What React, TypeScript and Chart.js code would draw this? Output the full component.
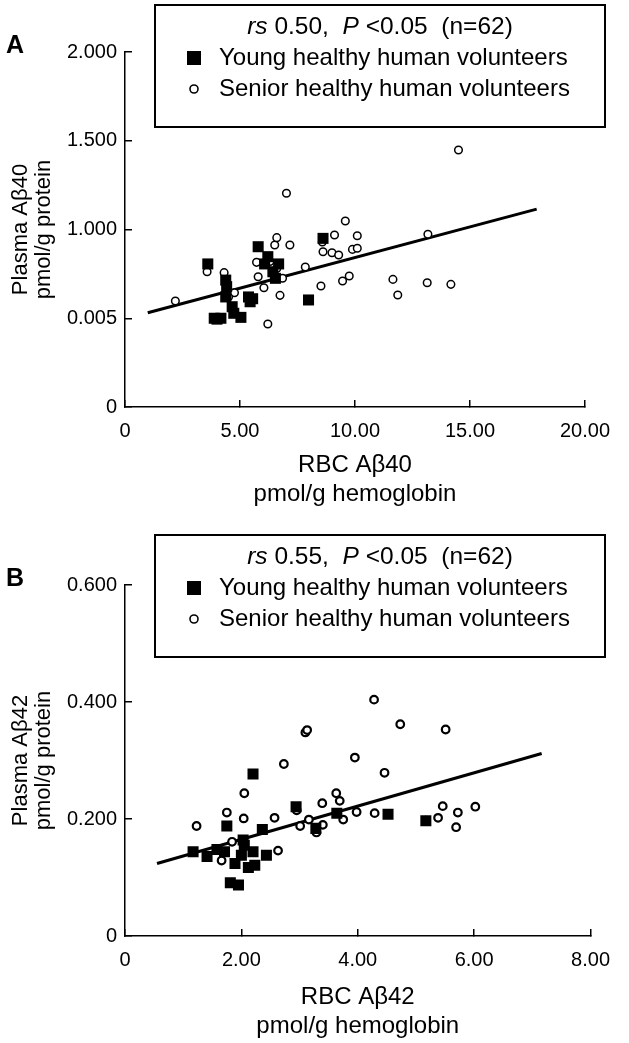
import React, { useEffect, useRef } from 'react';
import { Chart, registerables } from 'chart.js';

Chart.register(...registerables);

const FONT = '"Liberation Sans", Arial, Helvetica, sans-serif';

// ---------- Panel A data (RBC Aβ40 vs Plasma Aβ40) ----------
const youngAX = [3.6, 5.79, 6.21, 6.07, 6.68, 6.43, 6.54, 8.61, 7.98, 4.38, 4.42, 4.38, 4.66, 3.88, 4.17, 5.04, 4.73, 5.37, 5.44, 4.0, 5.55];
const youngAY = [0.806, 0.903, 0.847, 0.806, 0.806, 0.762, 0.725, 0.95, 0.603, 0.715, 0.678, 0.62, 0.565, 0.5, 0.5, 0.505, 0.528, 0.62, 0.593, 0.495, 0.61];
const seniorAX = [2.19, 3.57, 4.31, 4.76, 6.21, 5.72, 5.79, 6.04, 6.51, 6.6, 7.02, 7.17, 6.74, 6.85, 7.84, 8.52, 8.61, 8.58, 9.0, 9.11, 9.58, 9.29, 9.46, 9.75, 9.89, 10.1, 10.1, 14.5, 13.17, 11.65, 11.86, 13.14, 14.17, 6.3, 6.6, 4.5];
const seniorAY = [0.597, 0.762, 0.757, 0.644, 0.468, 0.815, 0.734, 0.672, 0.913, 0.954, 1.204, 0.913, 0.629, 0.725, 0.789, 0.682, 0.875, 0.93, 0.869, 0.969, 1.048, 0.856, 0.71, 0.738, 0.888, 0.894, 0.965, 1.448, 0.973, 0.719, 0.631, 0.7, 0.691, 0.82, 0.78, 0.62];
const fitAX = [0.99, 17.9];
const fitAY = [0.531, 1.115];
const xTicksA = ['0', '5.00', '10.00', '15.00', '20.00'];
const yTicksA = ['0', '0.005', '1.000', '1.500', '2.000'];
const statA = [
  { t: 'rs', i: true },
  { t: ' 0.50,  ', i: false },
  { t: 'P', i: true },
  { t: ' <0.05  (n=62)', i: false },
];

// ---------- Panel B data (RBC Aβ42 vs Plasma Aβ42) ----------
const youngBX = [2.2, 1.75, 2.36, 2.94, 2.03, 1.17, 1.41, 1.58, 1.71, 2.0, 2.2, 2.43, 1.89, 2.12, 2.23, 1.81, 1.95, 3.28, 3.64, 2.05, 4.52, 5.17];
const youngBY = [0.277, 0.188, 0.182, 0.221, 0.164, 0.144, 0.136, 0.148, 0.144, 0.138, 0.144, 0.138, 0.124, 0.117, 0.121, 0.091, 0.087, 0.184, 0.21, 0.155, 0.208, 0.197];
const seniorBX = [1.23, 1.75, 2.05, 2.04, 2.73, 2.57, 1.84, 1.66, 2.63, 2.95, 3.01, 3.16, 3.29, 3.4, 3.39, 3.63, 3.69, 3.75, 3.98, 3.95, 4.29, 4.28, 4.73, 5.51, 4.46, 5.17, 5.38, 5.46, 5.72, 5.69, 6.02, 3.1, 3.13];
const seniorBY = [0.188, 0.211, 0.244, 0.201, 0.294, 0.202, 0.161, 0.129, 0.146, 0.215, 0.188, 0.199, 0.177, 0.19, 0.227, 0.244, 0.231, 0.199, 0.212, 0.305, 0.21, 0.404, 0.362, 0.353, 0.279, 0.197, 0.202, 0.222, 0.211, 0.186, 0.221, 0.348, 0.352];
const fitBX = [0.55, 7.16];
const fitBY = [0.124, 0.312];
const xTicksB = ['0', '2.00', '4.00', '6.00', '8.00'];
const yTicksB = ['0', '0.200', '0.400', '0.600'];
const statB = [
  { t: 'rs', i: true },
  { t: ' 0.55,  ', i: false },
  { t: 'P', i: true },
  { t: ' <0.05  (n=62)', i: false },
];

const seriesLabels = ['Young healthy human volunteers', 'Senior healthy human volunteers'];

const toPts = (xs: number[], ys: number[]) => xs.map((x, i) => ({ x, y: ys[i] }));

const boxLegendPlugin = {
  id: 'boxLegend',
  afterDraw(chart: any, _args: any, opts: any) {
    const ctx = chart.ctx as CanvasRenderingContext2D;
    ctx.save();
    // panel letter
    ctx.fillStyle = '#000';
    ctx.font = `bold 25px ${FONT}`;
    ctx.textAlign = 'center';
    ctx.textBaseline = 'middle';
    ctx.fillText(opts.letter, opts.letterX, opts.letterY);

    // box
    ctx.lineWidth = 2;
    ctx.strokeStyle = '#000';
    ctx.strokeRect(opts.x, opts.y, opts.w, opts.h);

    // stat line
    const fs = opts.fontSize;
    const parts = opts.stat as { t: string; i: boolean }[];
    let total = 0;
    const widths = parts.map((p) => {
      ctx.font = `${p.i ? 'italic ' : ''}${opts.statSize}px ${FONT}`;
      const w = ctx.measureText(p.t).width;
      total += w;
      return w;
    });
    let cx = opts.x + opts.w / 2 - total / 2;
    ctx.textAlign = 'left';
    parts.forEach((p, k) => {
      ctx.font = `${p.i ? 'italic ' : ''}${opts.statSize}px ${FONT}`;
      ctx.fillText(p.t, cx, opts.y + opts.row0);
      cx += widths[k];
    });

    // items
    ctx.font = `${fs}px ${FONT}`;
    [0, 1].forEach((k) => {
      const ds = chart.data.datasets[k];
      const cy = opts.y + opts.rows[k];
      if (ds.pointStyle === 'rect') {
        ctx.fillStyle = '#000';
        ctx.fillRect(opts.markerX - 7, cy - 7, 14, 14);
      } else {
        ctx.beginPath();
        ctx.arc(opts.markerX, cy, 4, 0, Math.PI * 2);
        ctx.fillStyle = '#fff';
        ctx.fill();
        ctx.lineWidth = 1.6;
        ctx.strokeStyle = '#000';
        ctx.stroke();
      }
      ctx.fillStyle = '#000';
      ctx.fillText(ds.label, opts.textX, cy);
    });
    ctx.restore();
  },
};

type PanelCfg = {
  young: { x: number; y: number }[];
  senior: { x: number; y: number }[];
  fit: { x: number; y: number }[];
  xMax: number;
  xStep: number;
  yMax: number;
  yStep: number;
  xTicks: string[];
  yTicks: string[];
  xTitle: string[];
  yTitle: string[];
  stat: { t: string; i: boolean }[];
  letter: string;
  padTop: number;
  padBottom: number;
  xHeight: number;
  xTitlePad: number;
  circleWidth: number;
};

function makeConfig(p: PanelCfg): any {
  return {
    type: 'scatter',
    data: {
      datasets: [
        {
          label: seriesLabels[0],
          data: p.young,
          pointStyle: 'rect',
          pointRadius: 7.8,
          pointHoverRadius: 7.8,
          backgroundColor: '#000',
          borderColor: '#000',
          borderWidth: 0,
        },
        {
          label: seriesLabels[1],
          data: p.senior,
          pointStyle: 'circle',
          pointRadius: 3.8,
          pointHoverRadius: 3.8,
          backgroundColor: '#fff',
          borderColor: '#000',
          borderWidth: p.circleWidth,
        },
        {
          type: 'line',
          label: 'fit',
          data: p.fit,
          showLine: true,
          borderColor: '#000',
          borderWidth: 3,
          pointRadius: 0,
          fill: false,
        },
      ],
    },
    options: {
      responsive: false,
      animation: false,
      events: [],
      layout: { padding: { top: p.padTop, right: 32, bottom: p.padBottom, left: 0 } },
      plugins: {
        legend: { display: false },
        tooltip: { enabled: false },
        boxLegend: {
          letter: p.letter,
          letterX: 15,
          letterY: p.padTop - 6,
          x: 155,
          y: 5,
          w: 450,
          h: 122,
          fontSize: 24,
          statSize: 24.5,
          stat: p.stat,
          row0: 22,
          rows: [53, 84],
          markerX: 194,
          textX: 219,
        },
      },
      scales: {
        x: {
          type: 'linear',
          min: 0,
          max: p.xMax,
          afterFit: (s: any) => {
            s.height = p.xHeight;
          },
          border: { display: true, color: '#000', width: 1.5 },
          grid: { display: true, drawOnChartArea: false, drawTicks: true, tickLength: -7, color: '#000', lineWidth: 1.5 },
          ticks: {
            stepSize: p.xStep,
            padding: 19,
            color: '#000',
            font: { family: FONT, size: 20 },
            maxRotation: 0,
            callback: (_v: any, i: number) => p.xTicks[i],
          },
          title: {
            display: true,
            text: p.xTitle,
            color: '#000',
            font: { family: FONT, size: 24, lineHeight: 1.2 },
            padding: { top: 0, bottom: p.xTitlePad },
          },
        },
        y: {
          type: 'linear',
          min: 0,
          max: p.yMax,
          afterFit: (s: any) => {
            s.width = 125;
          },
          border: { display: true, color: '#000', width: 1.5 },
          grid: { display: true, drawOnChartArea: false, drawTicks: true, tickLength: -7, color: '#000', lineWidth: 1.5 },
          ticks: {
            stepSize: p.yStep,
            padding: 15,
            color: '#000',
            font: { family: FONT, size: 20 },
            callback: (_v: any, i: number) => p.yTicks[i],
          },
          title: {
            display: true,
            text: p.yTitle,
            color: '#000',
            font: { family: FONT, size: 22, lineHeight: 1.05 },
            padding: { top: 9, bottom: 0 },
          },
        },
      },
    },
    plugins: [boxLegendPlugin],
  };
}

function Panel({ cfg, height, top }: { cfg: PanelCfg; height: number; top: number }) {
  const ref = useRef<HTMLCanvasElement | null>(null);
  useEffect(() => {
    if (!ref.current) return;
    const chart = new Chart(ref.current, makeConfig(cfg));
    return () => chart.destroy();
  }, []);
  return (
    <canvas
      ref={ref}
      width={629}
      height={height}
      style={{ position: 'absolute', left: 0, top, width: 629, height, display: 'block' }}
    />
  );
}

const panelA: PanelCfg = {
  young: toPts(youngAX, youngAY),
  senior: toPts(seniorAX, seniorAY),
  fit: toPts(fitAX, fitAY),
  xMax: 20,
  xStep: 5,
  yMax: 2,
  yStep: 0.5,
  xTicks: xTicksA,
  yTicks: yTicksA,
  xTitle: ['RBC Aβ40', 'pmol/g hemoglobin'],
  yTitle: ['Plasma Aβ40', 'pmol/g protein'],
  stat: statA,
  letter: 'A',
  padTop: 52,
  padBottom: 13,
  xHeight: 110,
  xTitlePad: 8.6,
  circleWidth: 1.5,
};

const panelB: PanelCfg = {
  young: toPts(youngBX, youngBY),
  senior: toPts(seniorBX, seniorBY),
  fit: toPts(fitBX, fitBY),
  xMax: 8,
  xStep: 2,
  yMax: 0.6,
  yStep: 0.2,
  xTicks: xTicksB,
  yTicks: yTicksB,
  xTitle: ['RBC Aβ42', 'pmol/g hemoglobin'],
  yTitle: ['Plasma Aβ42', 'pmol/g protein'],
  stat: statB,
  letter: 'B',
  padTop: 55,
  padBottom: 0,
  xHeight: 107,
  xTitlePad: 2.6,
  circleWidth: 2.2,
};

export default function App() {
  return (
    <div style={{ position: 'absolute', left: 0, top: 0, width: 629, height: 1043, background: '#fff', overflow: 'hidden' }}>
      <Panel cfg={panelA} height={530} top={0} />
      <Panel cfg={panelB} height={513} top={530} />
    </div>
  );
}
